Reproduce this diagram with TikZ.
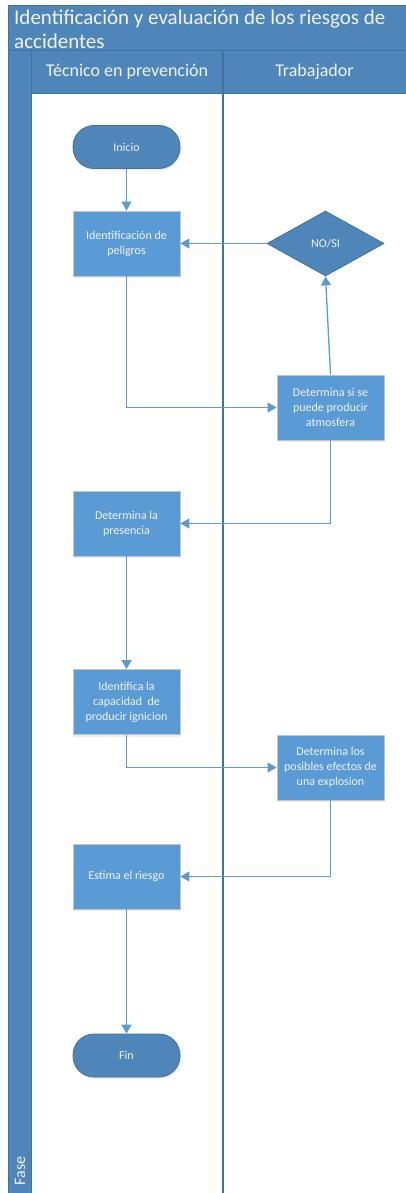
\documentclass[tikz,border=0pt]{standalone}
\usepackage{fontspec}
\setmainfont{Carlito}
\usetikzlibrary{arrows.meta,shapes.geometric,shadows}

\definecolor{bandblue}{HTML}{4E86BA}
\definecolor{edgeblue}{HTML}{41719C}
\definecolor{procblue}{HTML}{5B9BD5}
\definecolor{procedge}{HTML}{C4C4C4}

\tikzset{
  proc/.style={rectangle, fill=procblue, draw=procedge, line width=.8pt,
    minimum width=107pt, minimum height=65pt, text=white!95!black,
    font=\fontsize{12}{15}\selectfont, align=center, inner sep=2pt,
    drop shadow={shadow xshift=1pt, shadow yshift=-2pt, opacity=.15}},
  term/.style={rectangle, rounded corners=21pt, fill=bandblue, draw=edgeblue,
    line width=.8pt, minimum width=107pt, minimum height=43pt,
    text=white!95!black, font=\fontsize{12}{15}\selectfont,
    drop shadow={shadow xshift=1pt, shadow yshift=-2pt, opacity=.15}},
  decis/.style={diamond, fill=bandblue, draw=edgeblue, line width=.8pt,
    minimum width=117pt, minimum height=65pt, inner sep=0pt,
    text=white!95!black, font=\fontsize{12}{15}\selectfont},
  flow/.style={draw=procblue, line width=1.3pt, ->},
  lanehead/.style={text=white!95!black, font=\fontsize{18}{22}\selectfont}
}

\begin{document}
\begin{tikzpicture}[x=1pt, y=-1pt, >={Triangle[length=9pt,width=10pt]}]
    \useasboundingbox (0,0) rectangle (406,1193);
    % pool and lanes
    \fill[bandblue] (8,5) rectangle (406,93);
    \fill[bandblue] (8,93) rectangle (31,1193);
    \draw[edgeblue, line width=.8pt] (8,1193)--(8,5)--(406,5);
    \draw[edgeblue, line width=.8pt] (8,50)--(406,50);
    \draw[edgeblue, line width=.8pt] (31,50)--(31,1193);
    \draw[edgeblue, line width=.8pt] (31,93)--(406,93);
    \draw[edgeblue, line width=1.4pt] (223,50)--(223,1193);
    \node[anchor=north west, align=left, inner sep=0pt, text=white!95!black,
      font=\fontsize{21}{24}\selectfont] (title) at (14,10)
      {Identificación y evaluación de los riesgos de\\accidentes};
    \node[lanehead] (lane1) at (127,72) {Técnico en prevención};
    \node[lanehead] (lane2) at (314.5,72) {Trabajador};
    \node[rotate=90, anchor=base west, text=white!95!black,
      font=\fontsize{16}{19}\selectfont] (fase) at (25,1189) {Fase};

    % shapes
    \node[term] (ini) at (126.5,147) {Inicio};
    \node[proc] (idp) at (126.5,243.5) {Identificación de\\peligros};
    \node[decis] (dec) at (325.5,243.5) {NO/SI};
    \node[proc] (atm) at (330.5,407.5) {Determina si se\\puede producir\\atmosfera};
    \node[proc] (pre) at (126.5,523.5) {Determina la\\presencia};
    \node[proc] (cap) at (126.5,702) {Identifica la\\capacidad\ \ de\\producir ignicion};
    \node[proc] (efe) at (330.5,767.5) {Determina los\\posibles efectos de\\una explosion};
    \node[proc] (est) at (126.5,876.5) {Estima el riesgo};
    \node[term] (fin) at (126.5,1055.5) {Fin};

    % connectors
    \draw[flow] (ini)--(idp);
    \draw[flow] (dec)--(idp);
    \draw[flow] (idp)|-(atm);
    \draw[flow] (atm.north)--(dec.south);
    \draw[flow] (atm)|-(pre);
    \draw[flow] (pre)--(cap);
    \draw[flow] (cap)|-(efe);
    \draw[flow] (efe)|-(est);
    \draw[flow] (est)--(fin);
\end{tikzpicture}
\end{document}
